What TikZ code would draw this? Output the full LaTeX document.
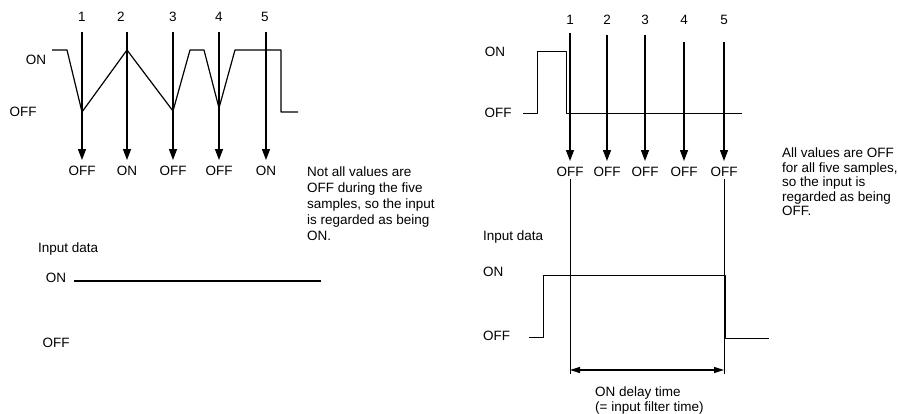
\documentclass[tikz,border=0pt]{standalone}
\usepackage{fontspec}
\setmainfont{Liberation Sans}
\usetikzlibrary{arrows.meta, positioning}

\begin{document}
\begin{tikzpicture}[x=1pt, y=-1pt,
    lbl/.style={font=\fontsize{13.5}{16}\selectfont, inner sep=2pt},
    note/.style={lbl, align=left, anchor=north west},
    wave/.style={line width=1.2pt, line join=round},
    smp/.style={line width=1.3pt, -{Triangle[length=11pt,width=8pt]}, shorten >=4pt},
    guide/.style={line width=0.8pt},
    span/.style={line width=1.4pt, {Triangle[length=10pt,width=6pt]}-{Triangle[length=10pt,width=6pt]}}]
  \useasboundingbox (0,0) rectangle (898,414);
  % left: samples
  \foreach \i/\n/\x/\v in {1/82/82/OFF, 2/121/127/ON, 3/173/173/OFF, 4/219/219/OFF, 5/265/266/ON} {
    \node[lbl] (ln\i) at (\n,17) {\i};
    \coordinate (lt\i) at (\x,32);
    \node[lbl] (lv\i) at (\x,171) {\v};
    \draw[smp] (lt\i) -- (lv\i.north);
  }
  \node[lbl] (lon) at (36,60) {ON};
  \node[lbl] (loff) at (23,112) {OFF};
  \draw[wave] (52,50) -- (67,50) -- (82,112) -- (127,50) -- (173,111) -- (190,50) -- (204,50)
    -- (219,108) -- (235,50) -- (281,50) -- (281,112) -- (298,112);
  \node[note, font=\fontsize{13.5}{16}\selectfont] (lnote) at (305,165)
    {Not all values are\\OFF during the five\\samples, so the input\\is regarded as being\\ON.};
  % left: input data
  \node[lbl, anchor=west] (lin) at (36,249) {Input data};
  \node[lbl] (lion) at (56,278) {ON};
  \node[lbl] (lioff) at (56,343) {OFF};
  \draw[wave, line width=1.4pt] (74,281) -- (321,281);
  % right: samples
  \foreach \i/\x/\t in {1/570/33, 2/607/35, 3/645/35, 4/684/42, 5/724/42} {
    \node[lbl] (rn\i) at (\x,20) {\i};
    \coordinate (rt\i) at (\x,\t);
    \node[lbl] (rv\i) at (\x,172) {OFF};
    \draw[smp] (rt\i) -- (rv\i.north);
  }
  \node[lbl] (ron) at (495,52) {ON};
  \node[lbl] (roff) at (498,113) {OFF};
  \draw[wave, line width=0.9pt] (523,113) -- (537,113) -- (537,51) -- (566,51) -- (566,113) -- (742,113);
  \node[note, font=\fontsize{13.5}{14.5}\selectfont] (rnote) at (780,146)
    {All values are OFF\\for all five samples,\\so the input is\\regarded as being\\OFF.};
  % right: input data
  \node[lbl, anchor=west] (rin) at (481,237) {Input data};
  \node[lbl, anchor=west] (rion) at (481,272) {ON};
  \node[lbl, anchor=west] (rioff) at (481,336) {OFF};
  \draw[wave, line width=0.9pt] (529,337) -- (543,337) -- (543,275) -- (725,275) -- (725,338) -- (769,338);
  \coordinate (g1) at (570,374);
  \coordinate (g5) at (724,374);
  \draw[guide] (rv1.south) -- (g1);
  \draw[guide] (rv5.south) -- (g5);
  \coordinate (d1) at (570,370);
  \coordinate (d5) at (724,370);
  \draw[span] (d1) -- (d5);
  \node[note, font=\fontsize{13.5}{15}\selectfont] (delay) at (593,385)
    {ON delay time\\(= input filter time)};
\end{tikzpicture}
\end{document}
